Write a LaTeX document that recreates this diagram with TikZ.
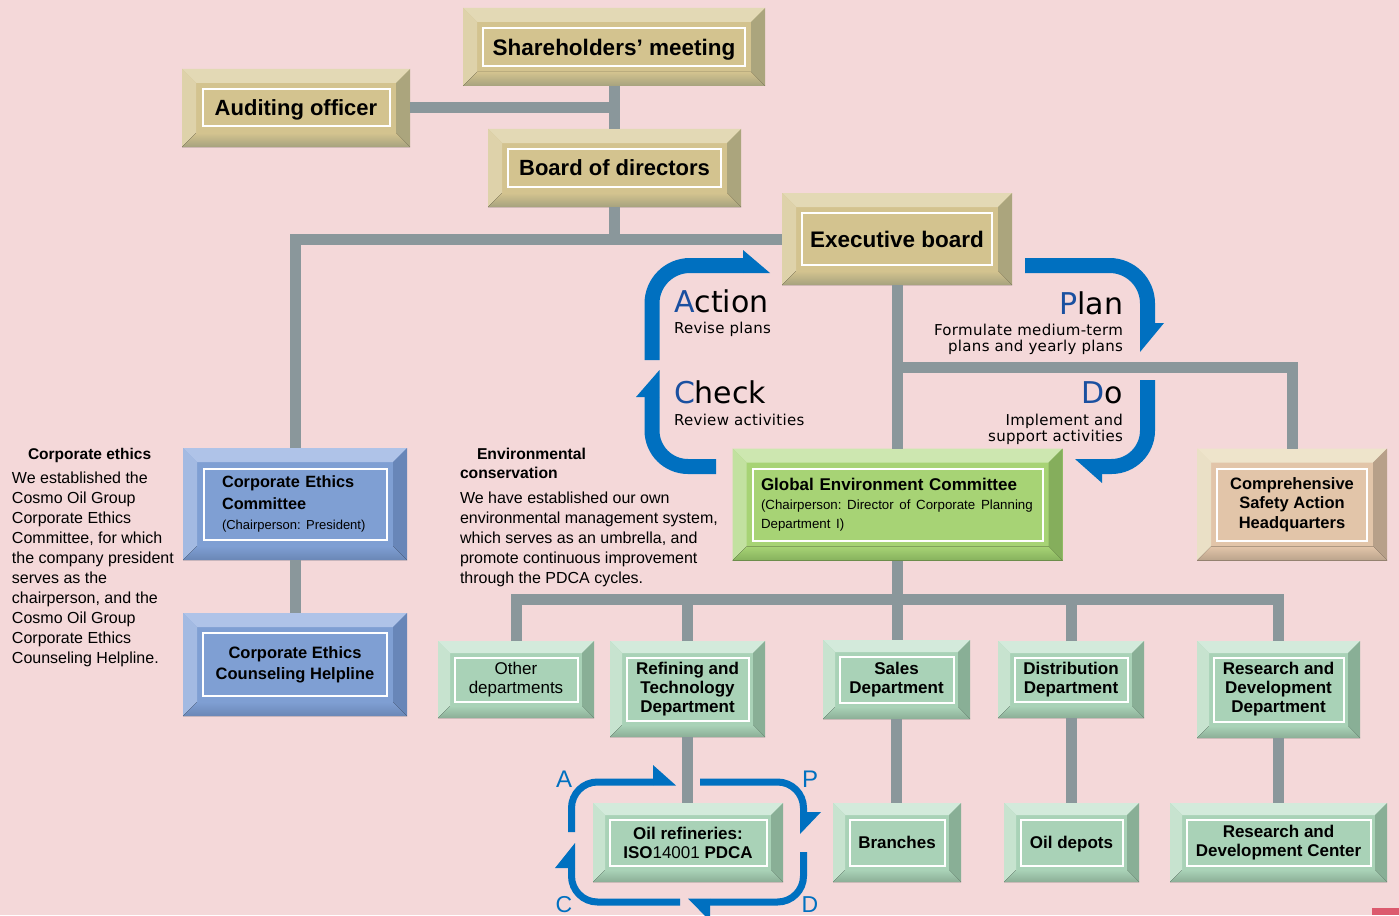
\documentclass[tikz,border=0pt]{standalone}
\usepackage{fontspec}
\setmainfont{Liberation Sans}
\newfontfamily\dejavu[LetterSpace=2]{DejaVu Sans}
\newfontfamily\dejavubig{DejaVu Sans}
\usetikzlibrary{calc}
\frenchspacing
\definecolor{bg}{HTML}{F4D8D9}
\definecolor{conn}{HTML}{8A979B}
\definecolor{pdca}{HTML}{0070C0}
\definecolor{lblue}{HTML}{1A50A0}
\definecolor{redmark}{HTML}{DC5A6E}
% tan
\definecolor{tanF}{HTML}{D3C38F}\definecolor{tanT}{HTML}{E3D9B5}\definecolor{tanL}{HTML}{DED2AA}
\definecolor{tanR}{HTML}{ABA57D}\definecolor{tanB}{HTML}{A6A27E}
% blue
\definecolor{bluF}{HTML}{7F9FD3}\definecolor{bluT}{HTML}{AFC3E8}\definecolor{bluL}{HTML}{A3BAE2}
\definecolor{bluR}{HTML}{6886B8}\definecolor{bluB}{HTML}{6A87B6}
% green
\definecolor{grnF}{HTML}{A7D375}\definecolor{grnT}{HTML}{CDE7B0}\definecolor{grnL}{HTML}{C2E1A0}
\definecolor{grnR}{HTML}{85AE5C}\definecolor{grnB}{HTML}{86B15D}
% mint
\definecolor{mntF}{HTML}{A9D2B7}\definecolor{mntT}{HTML}{D3EADB}\definecolor{mntL}{HTML}{C7E3CF}
\definecolor{mntR}{HTML}{89AF96}\definecolor{mntB}{HTML}{8BAE96}
% peach
\definecolor{pchF}{HTML}{E2C5A9}\definecolor{pchT}{HTML}{EEE4CB}\definecolor{pchL}{HTML}{EAE0C6}
\definecolor{pchR}{HTML}{B7A089}\definecolor{pchB}{HTML}{BAA38C}

\newcommand\mkbevel[4]{%
  \fill[#2T] (#1.north west) -- (#1.north east) -- ([xshift=-#3,yshift=-#3]#1.north east) -- ([xshift=#3,yshift=-#3]#1.north west) -- cycle;
  \fill[#2L] (#1.north west) -- ([xshift=#3,yshift=-#3]#1.north west) -- ([xshift=#3,yshift=#3]#1.south west) -- (#1.south west) -- cycle;
  \fill[#2R] (#1.north east) -- (#1.south east) -- ([xshift=-#3,yshift=#3]#1.south east) -- ([xshift=-#3,yshift=-#3]#1.north east) -- cycle;
  \fill[top color=#2F, bottom color=#2B] (#1.south west) -- ([xshift=#3,yshift=#3]#1.south west) -- ([xshift=-#3,yshift=#3]#1.south east) -- (#1.south east) -- cycle;
  \draw[white, line width=2pt] ([xshift=#4,yshift=-#4]#1.north west) rectangle ([xshift=-#4,yshift=#4]#1.south east);
}

\tikzset{
  bx/.style={inner sep=0pt, outer sep=0pt, align=center, draw=none},
  big/.style={font=\fontsize{22}{26}\selectfont\bfseries, text depth=0pt},
  dept/.style={font=\fontsize{17}{19}\selectfont\bfseries},
  conline/.style={draw=conn, line width=11pt, line join=miter},
  pd/.style={draw=pdca, line width=15pt},
  sp/.style={draw=pdca, line width=7pt, rounded corners=26pt},
  lbl/.style={inner sep=0pt, outer sep=0pt},
  pdtxt/.style={lbl, font=\dejavu\fontsize{15}{16}\selectfont},
  pdbig/.style={lbl, font=\dejavubig\fontsize{30}{32}\selectfont},
}

\begin{document}
\begin{tikzpicture}[x=1pt,y=-1pt]
\useasboundingbox (0,0) rectangle (1399,915);
\fill[bg] (0,0) rectangle (1399,915);

% ---------- boxes ----------
\node[bx, big, fill=tanF, minimum width=302pt, minimum height=78pt, font=\fontsize{22.5}{26}\selectfont\bfseries] (share) at (614,47) {Shareholders’ meeting};
\mkbevel{share}{tan}{14pt}{20pt}
\node[bx, big, fill=tanF, minimum width=228pt, minimum height=78pt] (audit) at (296,108) {Auditing officer};
\mkbevel{audit}{tan}{14pt}{20.5pt}
\node[bx, big, fill=tanF, minimum width=253pt, minimum height=78pt] (board) at (614.5,168) {Board of directors};
\mkbevel{board}{tan}{14pt}{20pt}
\node[bx, big, fill=tanF, minimum width=230pt, minimum height=92pt, font=\fontsize{22.5}{26}\selectfont\bfseries] (exec) at (897,239) {Executive board};
\mkbevel{exec}{tan}{14pt}{20pt}

\node[bx, fill=bluF, minimum width=224pt, minimum height=112pt, text width=146pt, align=left,
      font=\fontsize{16.3}{22}\selectfont\bfseries] (ethics) at (295,504)
  {\mbox{Corporate Ethics}\\\mbox{Committee}\\[-2pt]\mbox{\mdseries\fontsize{13}{15}\selectfont (Chairperson: President)}};
\mkbevel{ethics}{blu}{14pt}{20.5pt}
\node[bx, fill=bluF, minimum width=224pt, minimum height=103pt, font=\fontsize{16.5}{21}\selectfont\bfseries] (helpline) at (295,664.5)
  {Corporate Ethics\\Counseling Helpline};
\mkbevel{helpline}{blu}{14pt}{20pt}

\node[bx, fill=grnF, minimum width=330pt, minimum height=112pt, text width=273pt, align=left,
      font=\fontsize{17}{19}\selectfont\bfseries] (gec) at (897.5,504.5)
  {\mbox{Global Environment Committee}\\\mbox{\mdseries\fontsize{13.3}{19}\selectfont (Chairperson: Director of Corporate Planning}\\\mbox{\mdseries\fontsize{13.3}{19}\selectfont Department I)}};
\mkbevel{gec}{grn}{14pt}{20pt}

\node[bx, fill=pchF, minimum width=190pt, minimum height=112pt, font=\fontsize{16.5}{19.5}\selectfont\bfseries] (safety) at (1292,504.5)
  {Comprehensive\\Safety Action\\Headquarters};
\mkbevel{safety}{pch}{14pt}{20pt}

\node[bx, fill=mntF, minimum width=156pt, minimum height=77pt, font=\fontsize{17}{19}\selectfont] (other) at (516,679.5) {Other\\departments};
\mkbevel{other}{mnt}{12pt}{16.5pt}
\node[bx, dept, fill=mntF, minimum width=155pt, minimum height=96pt] (refining) at (687.5,689) {Refining and\\Technology\\Department};
\mkbevel{refining}{mnt}{12pt}{16.5pt}
\node[bx, dept, fill=mntF, minimum width=147pt, minimum height=79pt] (sales) at (896.5,679.5) {Sales\\Department};
\mkbevel{sales}{mnt}{12pt}{16.5pt}
\node[bx, dept, fill=mntF, minimum width=146pt, minimum height=77pt] (distrib) at (1071,679.5) {Distribution\\Department};
\mkbevel{distrib}{mnt}{12pt}{16.5pt}
\node[bx, dept, fill=mntF, minimum width=163pt, minimum height=97pt] (rnd) at (1278.5,689.5) {Research and\\Development\\Department};
\mkbevel{rnd}{mnt}{12pt}{16.5pt}

\node[bx, dept, fill=mntF, minimum width=190pt, minimum height=79pt] (refinery) at (688,842.5) {Oil refineries:\\ISO{\mdseries 14001} PDCA};
\mkbevel{refinery}{mnt}{12pt}{16.5pt}
\node[bx, dept, fill=mntF, minimum width=128pt, minimum height=79pt, text depth=0pt] (branches) at (897,842.5) {Branches};
\mkbevel{branches}{mnt}{12pt}{16.5pt}
\node[bx, dept, fill=mntF, minimum width=135pt, minimum height=79pt, text depth=0pt] (depots) at (1071.5,842.5) {Oil depots};
\mkbevel{depots}{mnt}{12pt}{16.5pt}
\node[bx, dept, fill=mntF, minimum width=217pt, minimum height=79pt] (center) at (1278.5,842.5) {Research and\\Development Center};
\mkbevel{center}{mnt}{12pt}{16.5pt}

% ---------- connectors ----------
\coordinate (jsafe) at (897,367);
\coordinate (bar) at (897,599);
\draw[conline] (share.south) -- (share.south |- board.north);
\draw[conline] (audit.east) -- (audit.east -| share.south);
\draw[conline] (board.south) -- (board.south |- exec.west);
\draw[conline] (ethics.north) |- (exec.west);
\draw[conline] (ethics.south) -- (helpline.north);
\draw[conline] (exec.south) -- (exec.south |- gec.north);
\draw[conline] (jsafe) -| (safety.north);
\draw[conline] (gec.south) -- (gec.south |- sales.north);
\draw[conline] (other.north) |- (bar) -| (rnd.north);
\draw[conline] (refining.north) -- (refining.north |- bar);
\draw[conline] (distrib.north) -- (distrib.north |- bar);
\draw[conline] (refining.south) -- (refining.south |- refinery.north);
\draw[conline] (sales.south) -- (sales.south |- branches.north);
\draw[conline] (distrib.south) -- (distrib.south |- depots.north);
\draw[conline] (rnd.south) -- (rnd.south |- center.north);

% ---------- big PDCA cycle ----------
\draw[pd, rounded corners=38pt] (652,360) |- (743,265.5);
\fill[pdca] (743,250) -- (770,273) -- (743,273) -- cycle;
\draw[pd, rounded corners=38pt] (1025,265.5) -| (1147.5,323);
\fill[pdca] (1140,323) -- (1164,323) -- (1140,352) -- cycle;
\draw[pd, rounded corners=36pt] (1147.5,380) |- (1102,466.5);
\fill[pdca] (1102,459) -- (1102,483) -- (1075,459) -- cycle;
\draw[pd, rounded corners=36pt] (652,397) |- (716,466.5);
\fill[pdca] (636,397) -- (659.5,370) -- (659.5,397) -- cycle;

\node[pdbig, anchor=base west] (tAct) at (674,312) {\textcolor{lblue}{A}ction};
\node[pdtxt, anchor=base west] (tAct2) at (674,333) {Revise plans};
\node[pdbig, anchor=base west] (tChk) at (674,403) {\textcolor{lblue}{C}heck};
\node[pdtxt, anchor=base west] (tChk2) at (674,425) {Review activities};
\node[pdbig, anchor=base east] (tPlan) at (1123,314) {\textcolor{lblue}{P}lan};
\node[pdtxt, anchor=base east] (tPlan2) at (1123,335) {Formulate medium-term};
\node[pdtxt, anchor=base east] (tPlan3) at (1123,351) {plans and yearly plans};
\node[pdbig, anchor=base east] (tDo) at (1123,403) {\textcolor{lblue}{D}o};
\node[pdtxt, anchor=base east] (tDo2) at (1123,425) {Implement and};
\node[pdtxt, anchor=base east] (tDo3) at (1123,441) {support activities};

% ---------- small PDCA cycle ----------
\draw[sp] (571.5,832) |- (653,782);
\fill[pdca] (653,765) -- (676,785.5) -- (653,785.5) -- cycle;
\draw[sp] (700,782) -| (803.5,812);
\fill[pdca] (800,812) -- (821,812) -- (800,834) -- cycle;
\draw[sp] (803.5,852) |- (710,902);
\fill[pdca] (710,898.5) -- (710,921) -- (688,898.5) -- cycle;
\draw[sp] (680,902) -| (571.5,868);
\fill[pdca] (555,868) -- (575,843) -- (575,868) -- cycle;
\node[lbl, anchor=base, text=pdca, font=\fontsize{24}{24}\selectfont] (sA) at (564,787) {A};
\node[lbl, anchor=base, text=pdca, font=\fontsize{24}{24}\selectfont] (sP) at (810,787) {P};
\node[lbl, anchor=base, text=pdca, font=\fontsize{23}{24}\selectfont] (sC) at (564,912) {C};
\node[lbl, anchor=base, text=pdca, font=\fontsize{23}{24}\selectfont] (sD) at (810,912) {D};

% ---------- side texts ----------
\node[lbl, anchor=base west, font=\fontsize{15.5}{18}\selectfont\bfseries] (ceT) at (28,459.5) {Corporate ethics};
\node[lbl, anchor=north west, align=left, font=\fontsize{16}{20}\selectfont] (ceB) at (12,472)
  {We established the\\Cosmo Oil Group\\Corporate Ethics\\Committee, for which\\the company president\\serves as the\\chairperson, and the\\Cosmo Oil Group\\Corporate Ethics\\Counseling Helpline.};
\node[lbl, anchor=base west, font=\fontsize{15.7}{18}\selectfont\bfseries] (evT1) at (477,459.5) {Environmental};
\node[lbl, anchor=base west, font=\fontsize{15.7}{18}\selectfont\bfseries] (evT2) at (460,478.5) {conservation};
\node[lbl, anchor=north west, align=left, font=\fontsize{16}{20}\selectfont] (evB) at (460,492)
  {We have established our own\\environmental management system,\\which serves as an umbrella, and\\promote continuous improvement\\through the PDCA cycles.};

\fill[redmark] (1372,908) rectangle (1399,915);
\end{tikzpicture}
\end{document}
